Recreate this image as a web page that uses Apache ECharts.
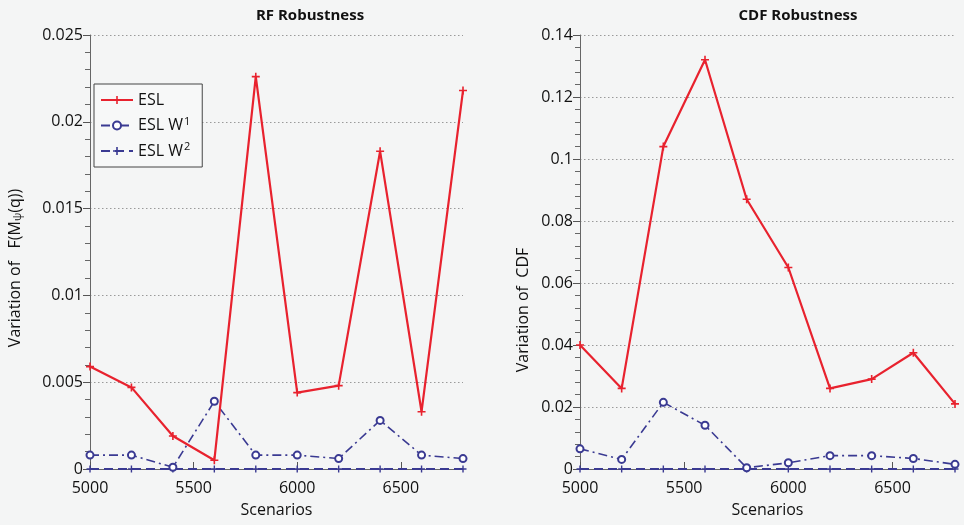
<!DOCTYPE html>
<html>
<head>
<meta charset="utf-8">
<script src="https://cdn.jsdelivr.net/npm/echarts@6/dist/echarts.min.js"></script>
<style>
html,body{margin:0;padding:0;background:#f4f5f5;}
#c{width:964px;height:525px;}
</style>
</head>
<body>
<div id="c"></div>
<script>
const scenarios = [5000, 5200, 5400, 5600, 5800, 6000, 6200, 6400, 6600, 6800];
const xTicks = [5000, 5500, 6000, 6500];
const rfESL  = [0.0059, 0.0047, 0.0019, 0.0005, 0.0226, 0.0044, 0.0048, 0.0183, 0.0033, 0.0218];
const rfW1   = [0.0008, 0.0008, 0.0001, 0.0039, 0.0008, 0.0008, 0.0006, 0.0028, 0.0008, 0.0006];
const rfW2   = [0, 0, 0, 0, 0, 0, 0, 0, 0, 0];
const cdfESL = [0.040, 0.026, 0.104, 0.132, 0.087, 0.065, 0.026, 0.029, 0.0375, 0.021];
const cdfW1  = [0.0065, 0.0031, 0.0215, 0.0141, 0.0004, 0.0020, 0.0043, 0.0043, 0.0034, 0.0015];
const cdfW2  = [0, 0, 0, 0, 0, 0, 0, 0, 0, 0];
const titles = ['RF Robustness', 'CDF Robustness'];

const RED = '#e8222e', BLUE = '#3a3a92';
const FONT = '"Open Sans", "Liberation Sans", sans-serif';
const TXT = '#111';
const plus = 'path://M4,0 L6,0 L6,4 L10,4 L10,6 L6,6 L6,10 L4,10 L4,6 L0,6 L0,4 L4,4 Z';
const pair = (xs, ys) => xs.map((x, i) => [x, ys[i]]);

function xAxis(gi) {
  return {
    type: 'value', gridIndex: gi, min: 5000, max: 6800, interval: 500,
    name: 'Scenarios', nameLocation: 'middle', nameGap: 33,
    nameTextStyle: {fontFamily: FONT, fontSize: 16, color: TXT, fontWeight: 500},
    axisLine: {lineStyle: {color: '#666', width: 1}},
    axisTick: {inside: true, length: 7, lineStyle: {color: '#555'}, customValues: xTicks},
    axisLabel: {fontFamily: FONT, fontSize: 16, color: TXT, fontWeight: 500, margin: 11,
      customValues: xTicks, formatter: v => String(v)},
    splitLine: {show: false}
  };
}
function yAxis(gi, max, interval, decimals) {
  return {
    type: 'value', gridIndex: gi, min: 0, max: max, interval: interval,
    axisLine: {show: true, lineStyle: {color: '#666', width: 1}},
    axisTick: {show: true, length: 7, lineStyle: {color: '#555'}},
    minorTick: {show: true, splitNumber: 5, length: 5, lineStyle: {color: '#666'}},
    axisLabel: {fontFamily: FONT, fontSize: 16, color: TXT, fontWeight: 500, margin: 7,
      formatter: v => v === 0 ? '0' : String(+v.toFixed(decimals))},
    splitLine: {show: true, lineStyle: {color: '#9a9a9a', type: [1.5, 2.5], width: 1}}
  };
}
function series(gi, esl, w1, w2) {
  return [
    {name: 'ESL', type: 'line', xAxisIndex: gi, yAxisIndex: gi, data: pair(scenarios, esl),
     symbol: plus, symbolSize: 8, itemStyle: {color: RED},
     lineStyle: {color: RED, width: 2.2}, z: 5},
    {name: 'ESL W1', type: 'line', xAxisIndex: gi, yAxisIndex: gi, data: pair(scenarios, w1),
     symbol: 'emptyCircle', symbolSize: 7, itemStyle: {color: BLUE, borderWidth: 1.5},
     lineStyle: {color: BLUE, width: 1.6, type: [9, 4, 2, 4]}, z: 4},
    {name: 'ESL W2', type: 'line', xAxisIndex: gi, yAxisIndex: gi, data: pair(scenarios, w2),
     symbol: plus, symbolSize: 7, itemStyle: {color: BLUE},
     lineStyle: {color: BLUE, width: 1.8, type: [9, 5]}, z: 3}
  ];
}

const chart = echarts.init(document.getElementById('c'));
chart.setOption({
  backgroundColor: '#f4f5f5',
  animation: false,
  title: [
    {text: titles[0], left: 305, top: 3, textAlign: 'center',
     textStyle: {fontFamily: FONT, fontSize: 15, fontWeight: 'bold', color: TXT}},
    {text: titles[1], left: 793, top: 3, textAlign: 'center',
     textStyle: {fontFamily: FONT, fontSize: 15, fontWeight: 'bold', color: TXT}}
  ],
  legend: {
    left: 94, top: 84, orient: 'vertical', itemGap: 8, itemWidth: 32, itemHeight: 10,
    padding: [8, 12, 8, 6],
    borderColor: '#444', borderWidth: 1, backgroundColor: '#f7f8f8',
    data: ['ESL', 'ESL W1', 'ESL W2'],
    formatter: n => n === 'ESL' ? 'ESL' : 'ESL W{s|' + n.slice(-1) + '}',
    textStyle: {fontFamily: FONT, fontSize: 16, fontWeight: 500, color: TXT,
      rich: {s: {fontFamily: FONT, fontSize: 11, fontWeight: 500, verticalAlign: 'top', padding: [0, 0, 8, 1], color: TXT}}}
  },
  grid: [
    {left: 90, top: 35, width: 373, height: 434},
    {left: 580, top: 35, width: 375, height: 434}
  ],
  xAxis: [xAxis(0), xAxis(1)],
  yAxis: [yAxis(0, 0.025, 0.005, 3), yAxis(1, 0.14, 0.02, 2)],
  graphic: [
    {type: 'text', x: 15, y: 268, rotation: Math.PI / 2,
     style: {text: 'Variation of   F(M{s|ψ}(q))', align: 'center', verticalAlign: 'middle',
       font: '500 16px ' + FONT, fill: TXT,
       rich: {s: {fontFamily: FONT, fontSize: 11, verticalAlign: 'bottom', padding: [6, 0, 0, 0], fill: TXT}}}},
    {type: 'text', x: 523, y: 310, rotation: Math.PI / 2,
     style: {text: 'Variation of  CDF', align: 'center', verticalAlign: 'middle',
       font: '500 16px ' + FONT, fill: TXT}}
  ],
  series: [].concat(series(0, rfESL, rfW1, rfW2), series(1, cdfESL, cdfW1, cdfW2))
});
</script>
</body>
</html>
